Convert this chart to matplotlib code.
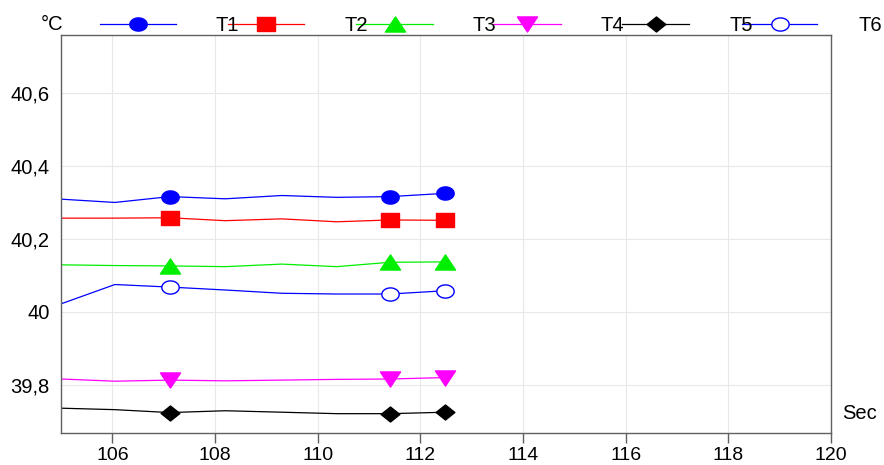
import numpy as np
import matplotlib.pyplot as plt
from matplotlib.lines import Line2D
from matplotlib.path import Path
from matplotlib.ticker import FuncFormatter

plt.rcParams['font.family'] = ['Liberation Sans', 'DejaVu Sans']

# Sample times (s)
time_s = [105.0, 106.05, 107.12, 108.2, 109.3, 110.37, 111.41, 112.49]

t1 = [40.309, 40.300, 40.316, 40.310, 40.319, 40.314, 40.316, 40.325]
t2 = [40.257, 40.257, 40.258, 40.250, 40.255, 40.247, 40.252, 40.251]
t3 = [40.129, 40.127, 40.126, 40.124, 40.131, 40.124, 40.136, 40.137]
t4 = [39.816, 39.810, 39.813, 39.811, 39.813, 39.815, 39.816, 39.820]
t5 = [39.736, 39.732, 39.724, 39.729, 39.725, 39.721, 39.721, 39.725]
t6 = [40.022, 40.075, 40.068, 40.060, 40.051, 40.049, 40.049, 40.058]

series_names = ['T1', 'T2', 'T3', 'T4', 'T5', 'T6']
series_values = [t1, t2, t3, t4, t5, t6]
marked_idx = [2, 6, 7]

x_ticks = [106, 108, 110, 112, 114, 116, 118, 120]
y_ticks = [39.8, 40.0, 40.2, 40.4, 40.6]


def squashed(path_xy, sy=0.76):
    v = np.asarray(path_xy, dtype=float)
    v[:, 1] *= sy
    return Path(v, closed=True)


theta = np.linspace(0, 2 * np.pi, 41)
ellipse = squashed(np.column_stack([np.cos(theta), np.sin(theta)]))
square = squashed([[-1, -1], [1, -1], [1, 1], [-1, 1], [-1, -1]])
tri_up = squashed([[0, 1], [-1, -1], [1, -1], [0, 1]], 0.75)
tri_dn = squashed([[0, -1], [-1, 1], [1, 1], [0, -1]], 0.75)
diamond = squashed([[0, 1], [1, 0], [0, -1], [-1, 0], [0, 1]], 0.8)

styles = [
    dict(color='#0000ff', marker=ellipse, mfc='#0000ff', ms=12.5),
    dict(color='#ff0000', marker=square, mfc='#ff0000', ms=12.5),
    dict(color='#00ee00', marker=tri_up, mfc='#00ee00', ms=14.5),
    dict(color='#ff00ff', marker=tri_dn, mfc='#ff00ff', ms=14.5),
    dict(color='#000000', marker=diamond, mfc='#000000', ms=13.5),
    dict(color='#0000ff', marker=ellipse, mfc='white', ms=12.5),
]

fig = plt.figure(figsize=(8.84, 4.65), dpi=100)
ax = fig.add_axes([61 / 884, 1 - 433 / 465, 770 / 884, 398 / 465])

for vals, st in zip(series_values, styles):
    ax.plot(time_s, vals, lw=0.9, markevery=marked_idx, mec=st['color'],
            mew=1.0, **st)

ax.set_xlim(105, 120)
ax.set_ylim(39.668, 40.759)
ax.set_xticks(x_ticks)
ax.set_yticks(y_ticks)
ax.yaxis.set_major_formatter(
    FuncFormatter(lambda v, p: f'{v:g}'.replace('.', ',')))
ax.grid(True, color='#e8e8e8', lw=0.8)
ax.set_axisbelow(True)
ax.tick_params(axis='x', length=7, width=1, color='#606060', pad=3,
               labelsize=14)
ax.tick_params(axis='y', length=0, pad=8, labelsize=14.5)
for sp in ax.spines.values():
    sp.set_color('#606060')
    sp.set_linewidth(1.0)

fig.text(842 / 884, 1 - 413 / 465, 'Sec', fontsize=14.5, va='center',
         ha='left')

# Legend row along the top edge
ly = 1 - 24 / 465
fig.text(52 / 884, ly, '°C', fontsize=14.5, ha='center', va='center')
sample_spans = [(100, 176), (228, 304), (356, 433), (493, 561),
                (622, 689), (742, 817)]
label_x = [227, 356, 484, 612, 741, 870]
for (x0, x1), st, name, lx in zip(sample_spans, styles, series_names,
                                  label_x):
    fig.add_artist(Line2D([x0 / 884, x1 / 884], [ly, ly],
                          transform=fig.transFigure, color=st['color'],
                          lw=0.9))
    fig.add_artist(Line2D([(x0 + x1) / 2 / 884], [ly],
                          transform=fig.transFigure, ls='none',
                          marker=st['marker'], ms=st['ms'],
                          mfc=st['mfc'], mec=st['color'], mew=1.0))
    fig.text(lx / 884, ly - 0.004, name, fontsize=14.5, ha='center',
             va='center')

fig.savefig('out.png', dpi=100)
